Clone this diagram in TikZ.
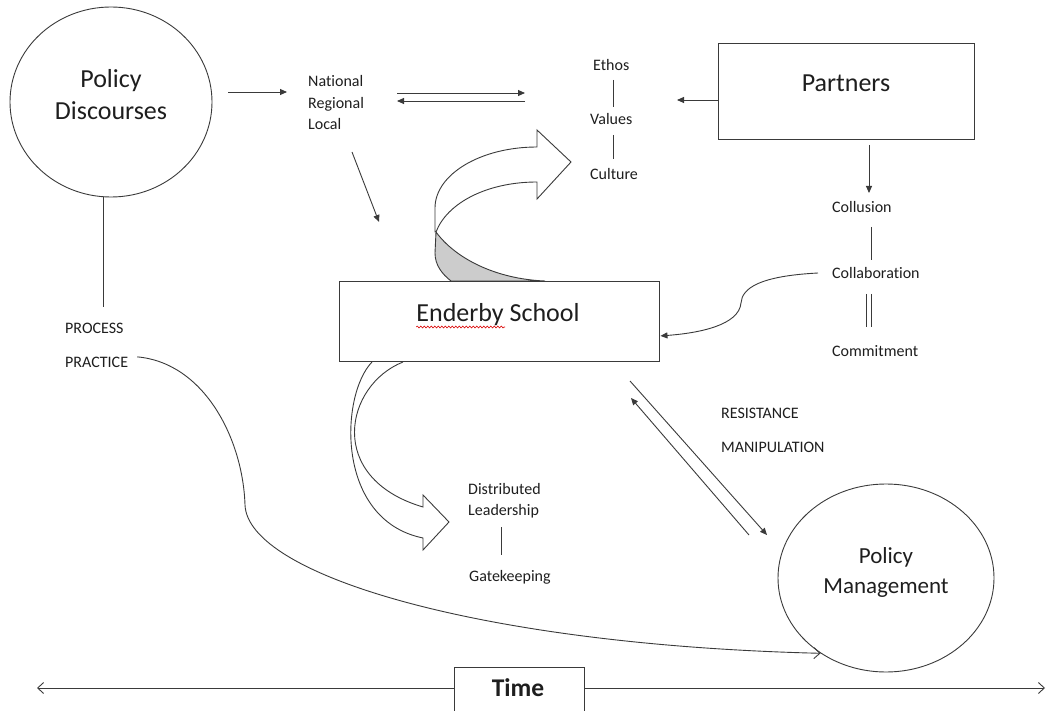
\documentclass[tikz,border=0pt]{standalone}
\usepackage{fontspec}
\setmainfont{Carlito}[Ligatures=NoCommon]
\usetikzlibrary{arrows.meta,shapes.geometric,decorations.pathmorphing}
\definecolor{lc}{HTML}{3A3A3A}
\definecolor{txt}{HTML}{1E1E1E}
\begin{document}
\begin{tikzpicture}[x=1pt,y=-1pt,
  lbl/.style={font=\fontsize{16}{19}\selectfont, text=txt, inner sep=0pt, anchor=base west},
  big/.style={font=\fontsize{26}{31}\selectfont, text=txt, inner sep=0pt, anchor=base},
  mid/.style={font=\fontsize{23}{28}\selectfont, text=txt, inner sep=0pt, anchor=base},
  ln/.style={draw=lc, line width=0.9pt},
  arr/.style={ln, -{Triangle[length=7pt,width=6pt]}},
  barb/.style={ln, -{Straight Barb[length=6pt,width=11pt]}},
  box/.style={draw=lc, line width=0.9pt, rectangle, inner sep=0pt},
  oval/.style={draw=lc, line width=0.9pt, ellipse, inner sep=0pt},
  blk/.style={draw=lc, line width=0.9pt, line join=miter}
]
\useasboundingbox (0,0) rectangle (1047,711);

% ---------- upper block arrow (curved up) ----------
\draw[blk, fill=white] (435,232) -- (435,208) .. controls (435,174.3) and (480.7,147) .. (537,147)
  -- (537,130) -- (571,162) -- (537,199) -- (537,182)
  .. controls (487,182) and (447,203) .. (436,232) -- cycle;
\draw[blk, fill=black!20] (436,232) -- (435,253) .. controls (435,265) and (442,274) .. (451,281)
  -- (545,281) .. controls (495,279) and (455,258) .. (436,232) -- cycle;

% ---------- lower block arrow (curved right) ----------
\draw[blk] (403,362) .. controls (345,385) and (325,478) .. (423,507)
  -- (423,495) -- (449,522) -- (423,550) -- (423,538)
  .. controls (335,520) and (340,395) .. (372,362);

% ---------- main shapes ----------
\node[oval, minimum width=202pt, minimum height=190pt] (pd) at (111,102) {};
\node[big] (pdt1) at (111,88) {Policy};
\node[big] (pdt2) at (111,120) {Discourses};

\node[oval, minimum width=216pt, minimum height=188pt] (pm) at (886,578) {};
\node[mid] (pmt1) at (886,563) {Policy};
\node[mid] (pmt2) at (886,593) {Management};

\node[box, minimum width=256pt, minimum height=96pt] (pa) at (846,91) {};
\node[big] (pat) at (846,92) {Partners};

\node[box, minimum width=320pt, minimum height=80pt] (es) at (499,321) {};
\node[big] (est) at (498,322) {Enderby School};
\draw[red!85!black, line width=0.6pt, decorate, decoration={snake, amplitude=0.9pt, segment length=3.5pt}] (est.base west) ++(0,5) coordinate (sq1) -- ++(89,0) coordinate (sq2);

\node[box, minimum width=130pt, minimum height=50pt] (tb) at (519,692) {};
\node[font=\fontsize{25.5}{30}\selectfont\bfseries, text=txt, inner sep=0pt, anchor=base] (tt) at (518,696) {Time};

% ---------- labels ----------
\node[lbl] (nat) at (308,87) {National};
\node[lbl] (reg) at (308,109) {Regional};
\node[lbl] (loc) at (308,130) {Local};

\node[lbl] (eth) at (593,71) {Ethos};
\node[lbl] (val) at (590,125) {Values};
\node[lbl] (cul) at (590,180) {Culture};

\node[lbl] (clu) at (832,213) {Collusion};
\node[lbl] (cla) at (832,279) {Collaboration};
\node[lbl] (com) at (832,356) {Commitment};

\node[lbl] (res) at (721,418) {RESISTANCE};
\node[lbl] (man) at (721,452) {MANIPULATION};

\node[lbl] (proc) at (65,334) {PROCESS};
\node[lbl] (prac) at (65,367) {PRACTICE};

\node[lbl] (dis) at (468,494) {Distributed};
\node[lbl] (lea) at (468,515) {Leadership};
\node[lbl] (gat) at (469,581) {Gatekeeping};

% ---------- coordinates ----------
\coordinate (pdl) at (103,307);
\coordinate (a1s) at (228,92);  \coordinate (a1e) at (287,92);
\coordinate (d1s) at (397,93);  \coordinate (d1e) at (525,93);
\coordinate (d2s) at (525,101); \coordinate (d2e) at (397,101);
\coordinate (n1s) at (352,152); \coordinate (n1e) at (379,222);
\coordinate (p1e) at (677,100);
\coordinate (p2s) at (869,145); \coordinate (p2e) at (869,193);
\coordinate (ev1) at (613,80);  \coordinate (ev2) at (613,107);
\coordinate (vc1) at (613,135); \coordinate (vc2) at (613,159);
\coordinate (cc1) at (871,227); \coordinate (cc2) at (871,260);
\coordinate (cm1) at (866,294); \coordinate (cm2) at (866,327);
\coordinate (cm3) at (871,294); \coordinate (cm4) at (871,327);
\coordinate (cb1) at (818,273);
\coordinate (r1s) at (630,381); \coordinate (r1e) at (767,535);
\coordinate (r2s) at (749,535); \coordinate (r2e) at (631,398);
\coordinate (dg1) at (501,527); \coordinate (dg2) at (501,555);
\coordinate (tl) at (37,688);   \coordinate (tr) at (1045,688);

% ---------- connectors ----------
\draw[ln] (pd.south -| pdl) -- (pdl);
\draw[arr] (a1s) -- (a1e);
\draw[arr] (d1s) -- (d1e);
\draw[arr] (d2s) -- (d2e);
\draw[arr] (n1s) -- (n1e);
\draw[arr] (pa.west |- p1e) -- (p1e);
\draw[arr] (p2s) -- (p2e);
\draw[ln] (ev1) -- (ev2);
\draw[ln] (vc1) -- (vc2);
\draw[ln] (cc1) -- (cc2);
\draw[ln] (cm1) -- (cm2);
\draw[ln] (cm3) -- (cm4);
\draw[ln] (dg1) -- (dg2);
\draw[arr, shorten >=1pt] (cb1) .. controls (760,276) and (742,288) .. (741,303)
  .. controls (739,325) and (700,333) .. (es.east |- 0,336);
\draw[arr] (r1s) -- (r1e);
\draw[arr] (r2s) -- (r2e);
\draw[barb] (prac.east) ++(9,-5) coordinate (pc0) .. controls (205,363) and (243,440) .. (245,505)
  .. controls (248,575) and (480,645) .. (pm.229);
\draw[barb] (tb.west |- tl) -- (tl);
\draw[barb] (tb.east |- tr) -- (tr);
\end{tikzpicture}
\end{document}
